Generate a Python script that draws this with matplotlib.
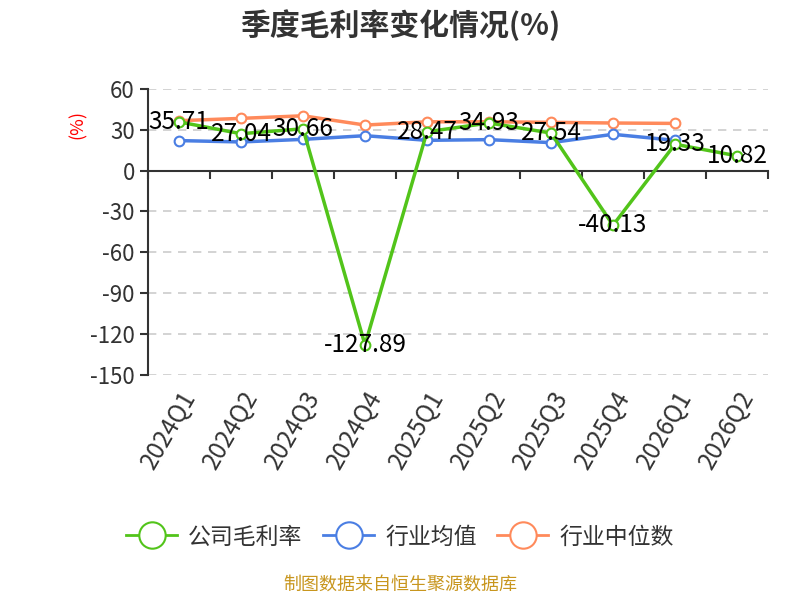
import numpy as np
import matplotlib.pyplot as plt
from matplotlib.lines import Line2D

plt.rcParams['font.family'] = ['Noto Sans CJK SC', 'DejaVu Sans']
plt.rcParams['axes.unicode_minus'] = False

quarters = ['2024Q1', '2024Q2', '2024Q3', '2024Q4', '2025Q1',
            '2025Q2', '2025Q3', '2025Q4', '2026Q1', '2026Q2']
company = [35.71, 27.04, 30.66, -127.89, 28.47, 34.93, 27.54, -40.13, 19.33, 10.82]
industry_avg = [22.0, 21.0, 22.9, 25.6, 22.2, 22.7, 20.5, 26.6, 22.2, np.nan]
industry_median = [36.6, 38.3, 40.2, 33.4, 35.8, 35.8, 35.4, 34.9, 34.6, np.nan]

green = '#52c41a'
blue = '#4a7ee3'
orange = '#ff8a5b'

fig = plt.figure(figsize=(8, 6), dpi=100)
ax = fig.add_axes([0.185, 0.375, 0.775, 0.477])
x = np.arange(len(quarters))

mk = dict(marker='o', markersize=7, markerfacecolor='white', markeredgewidth=1.5)
ax.plot(x, industry_median, color=orange, lw=2.5, zorder=3, **mk)
ax.plot(x, industry_avg, color=blue, lw=2.5, zorder=3, **mk)
ax.plot(x, company, color=green, lw=2.5, zorder=4, **mk)

# company value labels sit centred on the points
for xi, v in zip(x, company):
    ax.text(xi, v, f'{v:.2f}', ha='center', va='center', fontsize=17.5,
            color='black', zorder=5)

ax.set_xlim(-0.5, len(quarters) - 0.5)
ax.set_ylim(-150, 60)
ax.set_yticks(np.arange(-150, 61, 30))
ax.tick_params(axis='y', labelsize=16, labelcolor='#333333', length=6,
               width=1.5, color='#333333')
ax.yaxis.grid(True, ls=(0, (5, 4)), color='#cccccc', lw=1.2)
ax.set_axisbelow(True)

for s in ['top', 'right']:
    ax.spines[s].set_visible(False)
ax.spines['left'].set_color('#333333')
ax.spines['left'].set_linewidth(1.5)
ax.spines['bottom'].set_position(('data', 0))
ax.spines['bottom'].set_color('#333333')
ax.spines['bottom'].set_linewidth(1.5)
ax.set_xticks(np.arange(-0.5, len(quarters), 1.0))
ax.tick_params(axis='x', labelbottom=False, length=6, width=1.5,
               color='#333333', direction='out')

# category labels along the bottom of the plot area
sec = ax.secondary_xaxis('bottom')
sec.set_xticks(x, labels=quarters)
sec.tick_params(length=0, labelsize=17.5, labelcolor='#333333', pad=8)
for lab in sec.get_xticklabels():
    lab.set_rotation(60)
    lab.set_ha('right')
    lab.set_rotation_mode('anchor')
sec.spines['bottom'].set_visible(False)

ax.set_ylabel('(%)', color='red', fontsize=13)
ax.yaxis.set_label_coords(-0.098, 0.874)

fig.suptitle('季度毛利率变化情况(%)', fontsize=21.5, fontweight='bold',
             color='#333333', y=0.985)

handles = [Line2D([], [], color=c, lw=2, marker='o', markersize=19,
                  markerfacecolor='white', markeredgewidth=1.5)
           for c in (green, blue, orange)]
fig.legend(handles, ['公司毛利率', '行业均值', '行业中位数'], loc='center',
           bbox_to_anchor=(0.5, 0.105), ncol=3, frameon=False, fontsize=16.5,
           handlelength=2.2, columnspacing=0.9, handletextpad=0.5,
           labelcolor='#333333')

fig.text(0.5, 0.018, '制图数据来自恒生聚源数据库', ha='center', fontsize=13,
         color='#c8961e')

fig.savefig('out.png', dpi=100)
